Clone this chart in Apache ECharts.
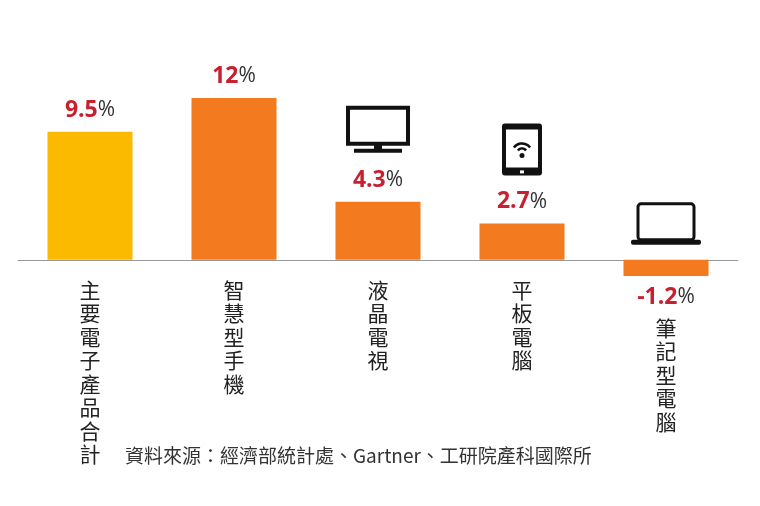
<!DOCTYPE html><html><head><meta charset="utf-8"><script src="https://cdn.jsdelivr.net/npm/echarts@6/dist/echarts.min.js"></script></head><body style="margin:0;background:#fff"><div id="c" style="width:760px;height:506px"></div><script>
const categories=['主要電子產品合計','智慧型手機','液晶電視','平板電腦','筆記型電腦'];
const values=[9.5,12,4.3,2.7,-1.2];
const colors=['#FBBA00','#F47A20','#F47A20','#F47A20','#F47A20'];
const source='資料來源：經濟部統計處、Gartner、工研院產科國際所';
const chart=echarts.init(document.getElementById('c'));
const F='"Noto Sans CJK TC","Noto Sans",sans-serif';
chart.setOption({
 animation:false,
 grid:{left:18,right:22,top:98,bottom:230},
 xAxis:{type:'category',data:categories,axisTick:{show:false},
  axisLine:{lineStyle:{color:'#999',width:1}},
  axisLabel:{interval:0,margin:2,formatter:(v,i)=>(i===4?'{p|'+v.split('').join('\n')+'}':'{a|'+v.split('').join('\n')+'}'),
   rich:{a:{fontSize:21,lineHeight:23.5,color:'#222',fontFamily:F},p:{fontSize:21,lineHeight:23.5,color:'#222',fontFamily:F,padding:[76,0,0,0]}}}},
 yAxis:{type:'value',min:-1.2,max:12,show:false,splitLine:{show:false}},
 series:[{type:'bar',barWidth:85,data:values.map((v,i)=>({value:v,itemStyle:{color:colors[i]}})),
  label:{show:true,position:'outside',distance:10,formatter:p=>'{n|'+p.value+'}{s|%}',rich:{n:{fontSize:23,fontWeight:'bold',color:'#C8202F',fontFamily:'"Open Sans",sans-serif'},s:{fontSize:21,color:'#333',fontFamily:'"Open Sans",sans-serif'}}}}]
});
const px=i=>chart.convertToPixel({seriesIndex:0},[i,0]);
const tp=i=>chart.convertToPixel({seriesIndex:0},[i,values[i]]);
const g=[{type:'text',left:125,top:446,style:{text:source,font:'19px '+F,fill:'#333'}}];
const S={stroke:'#111',lineWidth:3,fill:'none'};
let p=px(1),t=tp(1);
g.push({type:'rect',shape:{x:p[0]-20,y:t[1]+62,width:40,height:52,r:4},style:S});
g.push({type:'line',shape:{x1:p[0]-6,y1:t[1]+62,x2:p[0]+6,y2:t[1]+62},style:{stroke:'#111',lineWidth:5}});
g.push({type:'text',x:p[0]-7,y:t[1]+80,style:{text:'✆',font:'bold 15px DejaVu Sans',fill:'#111'}});
p=px(2);t=tp(2);
g.push({type:'rect',shape:{x:p[0]-30,y:t[1]-94,width:60,height:36},style:{stroke:'#111',lineWidth:4,fill:'none'}});
g.push({type:'rect',shape:{x:p[0]-4,y:t[1]-58,width:8,height:6},style:{fill:'#111'}});
g.push({type:'rect',shape:{x:p[0]-24,y:t[1]-53,width:48,height:4},style:{fill:'#111'}});
p=px(3);t=tp(3);
g.push({type:'rect',shape:{x:p[0]-20,y:t[1]-100,width:40,height:52,r:3},style:{fill:'#111'}});
g.push({type:'rect',shape:{x:p[0]-16,y:t[1]-94,width:32,height:38},style:{fill:'#fff'}});
g.push({type:'rect',shape:{x:p[0]-2,y:t[1]-53,width:4,height:3},style:{fill:'#fff'}});
[5,10].forEach(r=>g.push({type:'arc',shape:{cx:p[0],cy:t[1]-70,r:r,startAngle:-Math.PI*0.8,endAngle:-Math.PI*0.2},style:{stroke:'#111',lineWidth:2.5,fill:'none'}}));
g.push({type:'circle',shape:{cx:p[0],cy:t[1]-68,r:2.5},style:{fill:'#111'}});
p=px(4);
g.push({type:'rect',shape:{x:p[0]-28,y:p[1]-56,width:56,height:36,r:3},style:{stroke:'#111',lineWidth:3,fill:'none'}});
g.push({type:'rect',shape:{x:p[0]-35,y:p[1]-20,width:70,height:5,r:2},style:{fill:'#111'}});
chart.setOption({graphic:g});
</script></body></html>
